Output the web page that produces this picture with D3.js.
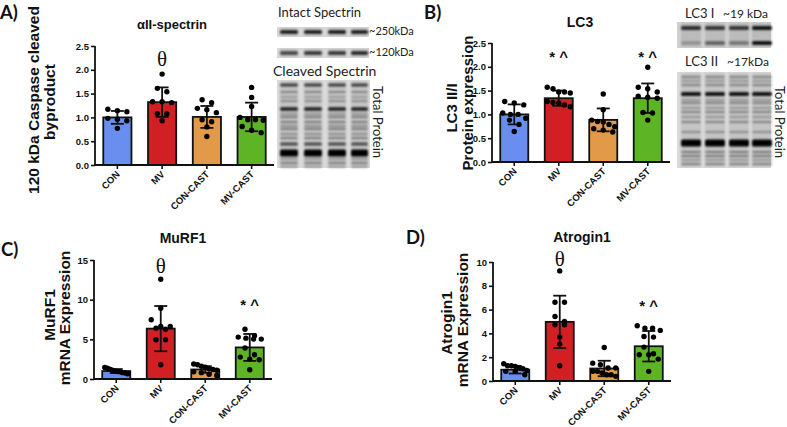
<!DOCTYPE html>
<html><head><meta charset="utf-8">
<script src="https://cdn.jsdelivr.net/npm/d3@7"></script>
<style>body{margin:0;background:#fff}svg{display:block}</style>
</head><body>
<svg id="c" width="787" height="427"></svg>
<script>
// ---------------- DATA ----------------
const categories = ["CON", "MV", "CON-CAST", "MV-CAST"];

// A) alphaII-spectrin 120 kDa caspase cleaved byproduct
const spectrinMean = [1.0, 1.32, 1.01, 1.01];
const spectrinSD = [0.135, 0.31, 0.23, 0.30];
const spectrinPoints = [
  [1.17, 1.14, 1.12, 0.98, 0.96, 0.93, 0.77],
  [1.91, 1.61, 1.54, 1.33, 1.31, 1.33, 1.08, 1.07, 0.93],
  [1.37, 1.31, 1.19, 1.16, 1.10, 0.95, 0.91, 0.80, 0.60],
  [1.63, 1.42, 1.23, 1.00, 0.95, 0.94, 0.95, 0.81, 0.73, 0.68]
];
const spectrinTicks = [0, 0.5, 1.0, 1.5, 2.0, 2.5];

// B) LC3 II/I
const lc3Mean = [1.0, 1.34, 0.885, 1.34];
const lc3SD = [0.21, 0.16, 0.24, 0.31];
const lc3Points = [
  [1.27, 1.24, 1.20, 1.03, 1.00, 1.00, 0.92, 0.88, 0.79, 0.64],
  [1.57, 1.54, 1.47, 1.47, 1.45, 1.27, 1.25, 1.24, 1.20, 1.16],
  [1.43, 1.10, 0.88, 0.85, 0.84, 0.79, 0.74, 0.70, 0.67, 0.63],
  [1.99, 1.57, 1.54, 1.47, 1.38, 1.36, 1.34, 1.04, 1.03, 0.88]
];
const lc3Ticks = [0, 0.5, 1.0, 1.5, 2.0, 2.5];

// C) MuRF1 mRNA
const murfMean = [1.0, 6.35, 1.2, 3.98];
const murfSD = [0.25, 2.85, 0.42, 1.7];
const murfPoints = [
  [1.45, 1.35, 1.25, 1.1, 1.0, 0.95, 0.9, 0.8, 0.75, 0.65],
  [12.57, 8.92, 7.46, 6.62, 6.62, 6.41, 6.28, 4.94, 4.94, 1.8],
  [1.9, 1.8, 1.6, 1.5, 1.3, 1.2, 1.1, 0.9, 0.8, 0.6, 0.45],
  [6.28, 5.45, 5.28, 5.15, 5.03, 5.03, 3.9, 3.06, 2.76, 2.51, 2.43, 1.17]
];
const murfTicks = [0, 5, 10, 15];

// D) Atrogin1 mRNA
const atroMean = [0.95, 4.97, 1.05, 2.92];
const atroSD = [0.32, 2.2, 0.65, 1.28];
const atroPoints = [
  [1.45, 1.28, 1.28, 1.23, 1.09, 1.03, 0.89, 0.81, 0.81, 0.53],
  [9.25, 6.62, 6.62, 5.42, 5.0, 4.72, 4.72, 3.69, 3.1, 1.28],
  [2.82, 1.5, 1.37, 1.09, 1.09, 0.81, 0.81, 0.67, 0.53, 0.53, 0.39],
  [4.64, 4.44, 4.44, 4.25, 3.74, 3.69, 2.85, 2.29, 2.2, 2.2, 1.84, 0.81]
];
const atroTicks = [0, 2, 4, 6, 8, 10];

// significance annotations: [category index, symbol, value level]
const spectrinSig = [[1, "θ", 2.23]];
const lc3Sig = [[1, "* ^", 2.27], [3, "* ^", 2.27]];
const murfSig = [[1, "θ", 14.25], [3, "* ^", 9.72]];
const atroSig = [[1, "θ", 10.25], [3, "* ^", 6.56]];

// ---------------- DRAW ----------------
const barColors = ["#6a8ef0", "#d21f24", "#e29a48", "#5db526"];
const FONT = "'Liberation Sans', Arial, sans-serif";
const svg = d3.select("#c");
svg.append("rect").attr("width", 787).attr("height", 427).attr("fill", "#fff");

const defs = svg.append("defs");
defs.append("filter").attr("id", "blur").attr("x", "-5%").attr("y", "-20%").attr("width", "110%").attr("height", "140%")
  .append("feGaussianBlur").attr("stdDeviation", 1.0);

function layoutRows(vals, y, bw) {
  const idx = vals.map((v, i) => i).sort((a, b) => vals[b] - vals[a]);
  const rows = [];
  let cur = null;
  idx.forEach(i => {
    const py = y(vals[i]);
    if (!cur || py - cur.top > 7) { cur = { top: py, items: [] }; rows.push(cur); }
    cur.items.push(i);
  });
  const out = [];
  rows.forEach(r => {
    const k = r.items.length;
    const sp = k > 1 ? Math.min(9.5, (bw - 5) / (k - 1)) : 0;
    r.items.forEach((i, j) => out.push({ v: vals[i], dx: (j - (k - 1) / 2) * sp }));
  });
  return out;
}

function panel(cfg) {
  const g = svg.append("g");
  const x = d3.scaleBand().domain(categories).range([cfg.x0, cfg.x1]).paddingInner(0.37).paddingOuter(0.185);
  const y = d3.scaleLinear().domain([0, cfg.max]).range([cfg.yb, cfg.yt]);
  const bw = x.bandwidth();

  g.selectAll("rect.bar").data(cfg.mean).join("rect").attr("class", "bar")
    .attr("x", (d, i) => x(categories[i])).attr("y", d => y(d))
    .attr("width", bw).attr("height", d => y(0) - y(d))
    .attr("fill", (d, i) => barColors[i]).attr("stroke", "#111").attr("stroke-width", 1.8);

  const eb = g.selectAll("g.eb").data(cfg.mean).join("g").attr("class", "eb")
    .attr("stroke", "#111").attr("stroke-width", 1.8);
  eb.append("line").attr("x1", (d, i) => x(categories[i]) + bw / 2).attr("x2", (d, i) => x(categories[i]) + bw / 2)
    .attr("y1", (d, i) => y(d + cfg.sd[i])).attr("y2", (d, i) => y(d - cfg.sd[i]));
  eb.append("line").attr("x1", (d, i) => x(categories[i]) + bw / 2 - 6.5).attr("x2", (d, i) => x(categories[i]) + bw / 2 + 6.5)
    .attr("y1", (d, i) => y(d + cfg.sd[i])).attr("y2", (d, i) => y(d + cfg.sd[i]));
  eb.append("line").attr("x1", (d, i) => x(categories[i]) + bw / 2 - 6.5).attr("x2", (d, i) => x(categories[i]) + bw / 2 + 6.5)
    .attr("y1", (d, i) => y(d - cfg.sd[i])).attr("y2", (d, i) => y(d - cfg.sd[i]));

  cfg.points.forEach((vals, i) => {
    const cx = x(categories[i]) + bw / 2;
    g.append("g").selectAll("circle").data(layoutRows(vals, y, bw)).join("circle")
      .attr("cx", d => cx + d.dx).attr("cy", d => y(d.v)).attr("r", 2.7).attr("fill", "#000");
  });

  const ya = g.append("g").attr("transform", `translate(${cfg.x0},0)`)
    .call(d3.axisLeft(y).tickValues(cfg.ticks).tickFormat(cfg.fmt).tickSize(4).tickSizeOuter(0).tickPadding(2));
  ya.select(".domain").attr("stroke", "#111").attr("stroke-width", 1.8).attr("d", `M0,${cfg.yt}V${cfg.yb + 0.9}`);
  ya.selectAll(".tick line").attr("stroke", "#111").attr("stroke-width", 1.6);
  ya.selectAll(".tick text").attr("font-family", FONT).attr("font-weight", "bold").attr("font-size", 9.5).attr("fill", "#111");

  const xa = g.append("g").attr("transform", `translate(0,${cfg.yb})`)
    .call(d3.axisBottom(x).tickSize(4).tickSizeOuter(0).tickFormat(""));
  xa.select(".domain").attr("stroke", "#111").attr("stroke-width", 1.8).attr("d", `M${cfg.x0},0H${cfg.x1}`);
  xa.selectAll(".tick line").attr("stroke", "#111").attr("stroke-width", 1.6);

  g.selectAll("text.cat").data(categories).join("text").attr("class", "cat")
    .attr("transform", d => `translate(${x(d) + bw / 2 + 3},${cfg.yb + 10}) rotate(-45)`)
    .attr("text-anchor", "end").attr("font-family", FONT).attr("font-weight", "bold").attr("font-size", 9.5)
    .attr("fill", "#111").text(d => d);

  g.append("text").attr("x", cfg.titleX).attr("y", cfg.titleY).attr("text-anchor", "middle")
    .attr("font-family", FONT).attr("font-weight", "bold").attr("font-size", cfg.titleSize || 14)
    .attr("fill", "#111").text(cfg.title);

  cfg.ylab.forEach(l => {
    g.append("text").attr("transform", `translate(${l[1]},${l[2]}) rotate(-90)`).attr("text-anchor", "middle")
      .attr("font-family", FONT).attr("font-weight", "bold").attr("font-size", l[3] || 15.5).attr("fill", "#111").text(l[0]);
  });

  cfg.sig.forEach(s => {
    const theta = s[1] === "θ";
    g.append("text").attr("x", x(categories[s[0]]) + bw / 2).attr("y", y(s[2]))
      .attr("text-anchor", "middle").attr("dominant-baseline", "central")
      .attr("font-family", theta ? "'Liberation Serif', 'Times New Roman', serif" : FONT)
      .attr("font-weight", theta ? "normal" : "bold").attr("font-size", theta ? 21 : 15)
      .attr("dy", theta ? 0 : 3)
      .attr("fill", "#111").text(s[1]);
  });
}

const f1 = d3.format(".1f"), f0 = d3.format("d");
panel({ x0: 95, x1: 274, yb: 165, yt: 46, max: 2.5, mean: spectrinMean, sd: spectrinSD, points: spectrinPoints,
  ticks: spectrinTicks, fmt: f1, title: "αII-spectrin", titleX: 172, titleY: 29, titleSize: 13,
  ylab: [["120 kDa Caspase cleaved", 39, 100], ["byproduct", 55, 102]], sig: spectrinSig });
panel({ x0: 492, x1: 670, yb: 162, yt: 43, max: 2.5, mean: lc3Mean, sd: lc3SD, points: lc3Points,
  ticks: lc3Ticks, fmt: f1, title: "LC3", titleX: 580, titleY: 27,
  ylab: [["LC3 II/I", 457, 108, 15], ["Protein expression", 473, 103, 15]], sig: lc3Sig });
panel({ x0: 94, x1: 272, yb: 379, yt: 260, max: 15, mean: murfMean, sd: murfSD, points: murfPoints,
  ticks: murfTicks, fmt: f0, title: "MuRF1", titleX: 183, titleY: 243,
  ylab: [["MuRF1", 55, 315], ["mRNA Expression", 70, 318]], sig: murfSig });
panel({ x0: 493, x1: 671, yb: 381, yt: 262, max: 10, mean: atroMean, sd: atroSD, points: atroPoints,
  ticks: atroTicks, fmt: f0, title: "Atrogin1", titleX: 582, titleY: 242,
  ylab: [["Atrogin1", 452, 323], ["mRNA Expression", 468, 320]], sig: atroSig });

[["A)", 0, 19], ["B)", 424, 19], ["C)", 1, 256], ["D)", 406, 244]].forEach(p => {
  svg.append("text").attr("x", p[1]).attr("y", p[2]).attr("font-family", "Lato, 'Open Sans', sans-serif")
    .attr("font-weight", "bold").attr("font-size", 18.5).attr("fill", "#111").text(p[0]);
});

// ---------------- blots (decorative) ----------------
const BF = "Lato, 'Open Sans', sans-serif";
function blot(x0, y0, w, h, lanes, bands, bg) {
  const g = svg.append("g");
  g.append("rect").attr("x", x0).attr("y", y0).attr("width", w).attr("height", h).attr("fill", bg || "#e2e2e2");
  const lg = g.append("g").attr("filter", "url(#blur)");
  lanes.forEach((ln, li) => {
    lg.append("rect").attr("x", x0 + ln[0]).attr("y", y0 + 1).attr("width", ln[1]).attr("height", h - 2)
      .attr("fill", "#000").attr("opacity", 0.1);
    bands.forEach(b => {
      const o = b[2] * (b[3] ? b[3][li] : 1);
      lg.append("rect").attr("x", x0 + ln[0]).attr("y", y0 + b[0] - b[1] / 2).attr("width", ln[1])
        .attr("height", b[1]).attr("rx", 1.5).attr("fill", "#000").attr("opacity", Math.min(1, o));
    });
  });
  return g;
}
const lanesA = [[3, 18], [27, 18], [51, 18], [74, 17]];
blot(277, 27, 92, 10, lanesA, [[5, 3.5, 0.9]], "#d8d8d8");
blot(277, 48, 92, 10, lanesA, [[5, 3.5, 0.85, [0.8, 0.9, 0.9, 1]]], "#d8d8d8");
blot(277, 80, 93, 88, lanesA, [
  [5, 3, 0.7], [12, 2, 0.35], [17, 2, 0.22], [21, 2, 0.3], [29, 3.5, 0.85], [34, 2, 0.26], [37, 2, 0.38],
  [42, 2, 0.38], [46, 2, 0.3], [49, 2, 0.38], [54, 2, 0.3], [58, 2, 0.38], [64, 3, 0.65],
  [73, 7, 1], [79, 2, 0.26], [83, 2, 0.38], [87, 2, 0.26]], "#dadada");
svg.append("text").attr("x", 278).attr("y", 17).attr("font-family", BF).attr("font-size", 13).attr("fill", "#222").text("Intact Spectrin");
svg.append("text").attr("x", 369).attr("y", 35).attr("font-family", BF).attr("font-size", 11).attr("fill", "#222").text("~250kDa");
svg.append("text").attr("x", 369).attr("y", 56).attr("font-family", BF).attr("font-size", 11).attr("fill", "#222").text("~120kDa");
svg.append("text").attr("x", 273).attr("y", 76).attr("font-family", BF).attr("font-size", 14).attr("fill", "#222").text("Cleaved Spectrin");
svg.append("text").attr("transform", "translate(373,122) rotate(90)").attr("text-anchor", "middle")
  .attr("font-family", BF).attr("font-size", 13).attr("fill", "#222").text("Total Protein");

const lanesB = [[4, 20], [28, 20], [52, 20], [75, 20]];
blot(677, 22, 94, 26, lanesB, [[6, 4, 0.9, [0.85, 0.8, 0.8, 1]], [21, 3.5, 0.8, [0.3, 0.65, 0.5, 1.25]]], "#d0d0d0");
blot(677, 72, 94, 96, lanesB, [
  [5, 2, 0.35], [9, 2, 0.26], [13, 2, 0.35], [22, 4, 0.9], [28, 2, 0.26], [31, 2, 0.35], [36, 2, 0.26],
  [40, 2, 0.35], [45, 2, 0.26], [50, 2, 0.35], [60, 2, 0.3], [71, 7, 1], [80, 2, 0.4],
  [84, 2, 0.4], [88, 2, 0.26], [92, 2, 0.35]], "#dadada");
svg.append("text").attr("x", 685).attr("y", 18).attr("font-family", BF).attr("font-size", 13).attr("fill", "#222").text("LC3 I");
svg.append("text").attr("x", 723).attr("y", 18).attr("font-family", BF).attr("font-size", 12).attr("fill", "#222").text("~19 kDa");
svg.append("text").attr("x", 685).attr("y", 66).attr("font-family", BF).attr("font-size", 13).attr("fill", "#222").text("LC3 II");
svg.append("text").attr("x", 727).attr("y", 66).attr("font-family", BF).attr("font-size", 12).attr("fill", "#222").text("~17kDa");
svg.append("text").attr("transform", "translate(775,122) rotate(90)").attr("text-anchor", "middle")
  .attr("font-family", BF).attr("font-size", 13).attr("fill", "#222").text("Total Protein");
</script>
</body></html>
